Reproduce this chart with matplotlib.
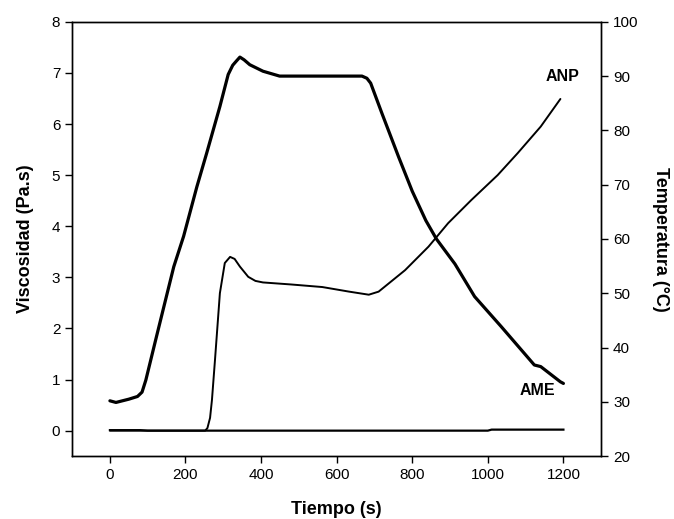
import matplotlib.pyplot as plt

plt.rcParams['font.family'] = ['Liberation Sans', 'DejaVu Sans']

# temperature profile (thick line, right axis)
t_temp = [0, 16, 50, 73, 85, 95, 121, 143, 169, 195, 230, 256, 291, 313, 325, 335, 344, 355, 370, 405, 449, 667, 680, 690, 720, 764, 800, 836, 864, 913, 965, 1035, 1123, 1140, 1192, 1200]
temp = [30.2, 29.9, 30.5, 31.0, 31.8, 34.0, 41.4, 47.6, 54.9, 60.5, 69.6, 75.8, 84.4, 90.3, 92.0, 92.8, 93.5, 93.0, 92.1, 90.9, 90.0, 90.0, 89.6, 88.7, 83.1, 75.1, 68.8, 63.4, 60.0, 55.4, 49.4, 43.9, 36.8, 36.5, 33.7, 33.4]

# ANP viscosity (thin line, left axis)
t_anp = [0, 100, 200, 252, 258, 265, 270, 278, 291, 304, 318, 330, 344, 366, 385, 405, 480, 562, 633, 685, 711, 781, 843, 895, 956, 1026, 1079, 1140, 1192]
v_anp = [0.0, 0.0, 0.0, 0.0, 0.05, 0.25, 0.6, 1.38, 2.69, 3.28, 3.40, 3.36, 3.21, 3.01, 2.93, 2.90, 2.86, 2.81, 2.72, 2.66, 2.72, 3.14, 3.60, 4.06, 4.51, 5.00, 5.43, 5.95, 6.49]

# AME viscosity (flat line, left axis)
t_ame = [0, 80, 100, 1000, 1010, 1200]
v_ame = [0.01, 0.01, 0.0, 0.0, 0.02, 0.02]

fig, ax = plt.subplots(figsize=(6.74, 5.19), dpi=100)
fig.subplots_adjust(left=0.107, right=0.892, bottom=0.121, top=0.958)
ax2 = ax.twinx()

ax.plot(t_anp, v_anp, color='black', lw=1.4, solid_capstyle='round', solid_joinstyle='round')
ax.plot(t_ame, v_ame, color='black', lw=1.6)
ax2.plot(t_temp, temp, color='black', lw=2.3, solid_capstyle='round', solid_joinstyle='round')

ax.set_xlim(-100, 1300)
ax.set_ylim(-0.5, 8)
ax2.set_ylim(20, 100)
ax.set_xticks(range(0, 1201, 200))
ax.set_yticks(range(0, 9))
ax2.set_yticks(range(20, 101, 10))

for a in (ax, ax2):
    a.tick_params(direction='out', length=5, width=1, labelsize=11, colors='black')
    for s in a.spines.values():
        s.set_linewidth(1.0)

ax.set_xlabel('Tiempo (s)', fontsize=13, fontweight='bold', labelpad=14)
ax.set_ylabel('Viscosidad (Pa.s)', fontsize=13, fontweight='bold', labelpad=13)
ax2.set_ylabel('Temperatura (°C)', fontsize=13, fontweight='bold', rotation=-90, labelpad=22)

ax.text(1243, 6.92, 'ANP', fontsize=11.5, fontweight='bold', ha='right', va='center')
ax.text(1178, 0.79, 'AME', fontsize=11.5, fontweight='bold', ha='right', va='center')

fig.savefig('out.png', dpi=100)
